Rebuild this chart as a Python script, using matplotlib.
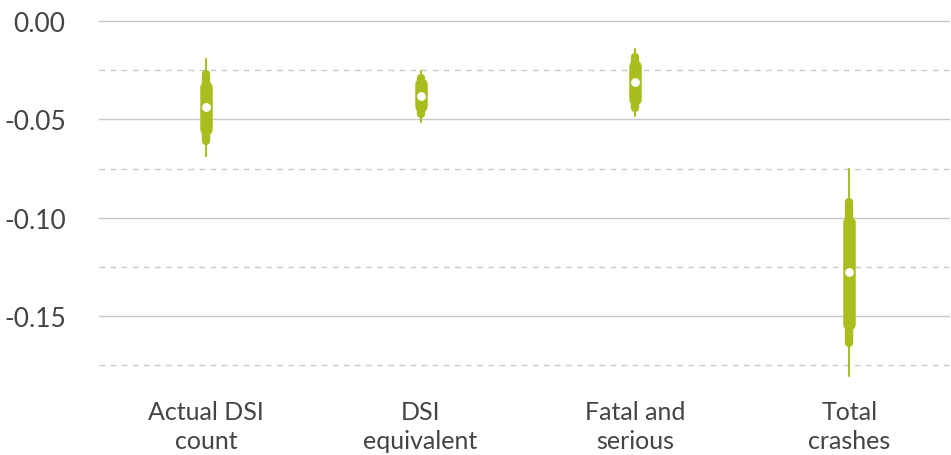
import matplotlib
matplotlib.use("Agg")
import matplotlib.pyplot as plt

# Interval summaries per crash measure
categories = ["Actual DSI\ncount", "DSI\nequivalent", "Fatal and\nserious", "Total\ncrashes"]
median = [-0.0437, -0.0381, -0.0310, -0.1277]
outer_lo = [-0.0687, -0.0514, -0.0483, -0.1806]
outer_hi = [-0.0193, -0.0254, -0.0142, -0.0753]
mid_lo = [-0.0610, -0.0473, -0.0443, -0.1638]
mid_hi = [-0.0270, -0.0290, -0.0183, -0.0921]
inner_lo = [-0.0549, -0.0432, -0.0397, -0.1541]
inner_hi = [-0.0336, -0.0320, -0.0229, -0.1022]

major_ticks = [0.00, -0.05, -0.10, -0.15]
minor_ticks = [-0.025, -0.075, -0.125, -0.175]
tick_labels = ["0.00", "-0.05", "-0.10", "-0.15"]

green = "#AABD1F"
text_col = "#444444"

plt.rcParams["font.family"] = ["Lato", "DejaVu Sans"]

fig = plt.figure(figsize=(9.51, 4.56), dpi=100)
ax = fig.add_axes([99 / 951, (456 - 386) / 456, (950 - 99) / 951, 370 / 456])

for y in major_ticks:
    ax.axhline(y, color="#c8c8c8", lw=1.0, zorder=0)
for y in minor_ticks:
    ax.axhline(y, color="#c8c8c8", lw=1.0, ls=(0, (4, 4)), zorder=0)

xs = range(len(categories))
ax.vlines(xs, outer_lo, outer_hi, color=green, lw=1.5, capstyle="round", zorder=2)
for x, lo, hi in zip(xs, mid_lo, mid_hi):
    ax.plot([x, x], [lo, hi], color=green, lw=6.0, solid_capstyle="round", zorder=3)
for x, lo, hi in zip(xs, inner_lo, inner_hi):
    ax.plot([x, x], [lo, hi], color=green, lw=9.0, solid_capstyle="round", zorder=4)
ax.scatter(xs, median, s=40, color="white", zorder=5, linewidths=0)

ax.set_xlim(-0.5, 3.47)
ax.set_ylim(-0.185, 0.003)
ax.set_yticks(major_ticks)
ax.set_yticklabels(tick_labels)
ax.set_xticks(list(xs))
ax.set_xticklabels(categories, linespacing=1.3)
ax.tick_params(axis="y", length=0, pad=24, labelsize=19, labelcolor=text_col)
ax.tick_params(axis="x", length=0, pad=11, labelsize=18, labelcolor=text_col)
for s in ax.spines.values():
    s.set_visible(False)

fig.savefig("out.png", dpi=100)
